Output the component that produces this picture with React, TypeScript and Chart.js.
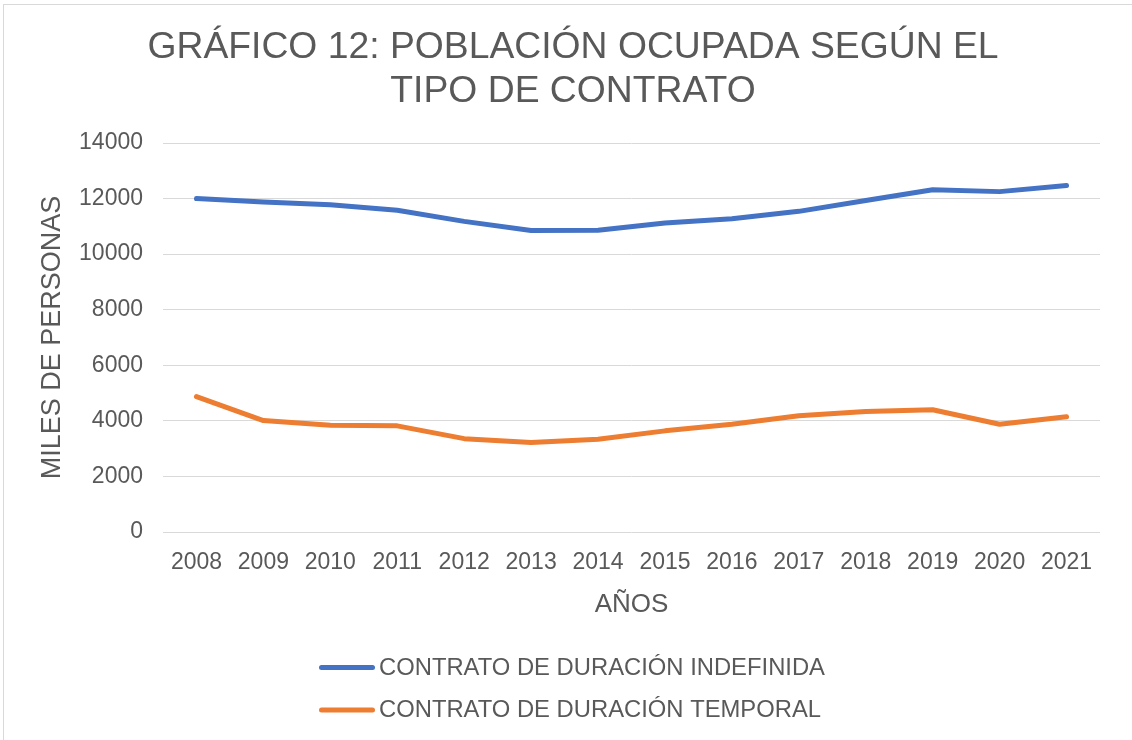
import React, { useEffect, useRef } from "react";
import { Chart, registerables } from "chart.js";

Chart.register(...registerables);

const years = ["2008", "2009", "2010", "2011", "2012", "2013", "2014", "2015", "2016", "2017", "2018", "2019", "2020", "2021"];
const indefinida = [12000, 11880, 11780, 11580, 11180, 10850, 10860, 11120, 11270, 11540, 11930, 12320, 12250, 12470];
const temporal = [4870, 4010, 3840, 3820, 3360, 3220, 3340, 3640, 3880, 4180, 4340, 4400, 3880, 4150];
const seriesLabels = ["CONTRATO DE DURACIÓN INDEFINIDA", "CONTRATO DE DURACIÓN TEMPORAL"];
const seriesColors = ["#4472C4", "#ED7D31"];
const titleLines = ["GRÁFICO 12: POBLACIÓN OCUPADA SEGÚN EL", "TIPO DE CONTRATO"];
const yAxisTitle = "MILES DE PERSONAS";
const xAxisTitle = "AÑOS";
const yMin = 0;
const yMax = 14000;
const yStep = 2000;

const FONT = "'Liberation Sans', Arial, sans-serif";
const TEXT = "#595959";

const titlePlugin = {
  id: "customTitle",
  afterDraw(chart: any) {
    const ctx = chart.ctx;
    ctx.save();
    ctx.fillStyle = TEXT;
    ctx.font = `37.3px ${FONT}`;
    ctx.textAlign = "center";
    ctx.textBaseline = "alphabetic";
    const baselines = [58, 101.5];
    titleLines.forEach((t, i) => ctx.fillText(t, 573, baselines[i]));
    ctx.restore();
  },
};

const legendPlugin = {
  id: "customLegend",
  afterDraw(chart: any) {
    const ctx = chart.ctx;
    ctx.save();
    chart.data.datasets.forEach((ds: any, i: number) => {
      const y = 667.5 + i * 42.5;
      ctx.strokeStyle = ds.borderColor;
      ctx.lineWidth = 5;
      ctx.lineCap = "round";
      ctx.beginPath();
      ctx.moveTo(321.5, y);
      ctx.lineTo(372.5, y);
      ctx.stroke();
      ctx.fillStyle = TEXT;
      ctx.font = `23.8px ${FONT}`;
      ctx.textAlign = "left";
      ctx.textBaseline = "middle";
      ctx.fillText(ds.label, 379, y + 0.5);
    });
    ctx.restore();
  },
};

export default function App() {
  const ref = useRef<HTMLCanvasElement | null>(null);

  useEffect(() => {
    if (!ref.current) return;
    const chart = new Chart(ref.current, {
      type: "line",
      data: {
        labels: years,
        datasets: [
          {
            label: seriesLabels[0],
            data: indefinida,
            borderColor: seriesColors[0],
            backgroundColor: seriesColors[0],
            borderWidth: 5,
            pointRadius: 0,
            tension: 0,
            borderCapStyle: "round",
            borderJoinStyle: "round",
          },
          {
            label: seriesLabels[1],
            data: temporal,
            borderColor: seriesColors[1],
            backgroundColor: seriesColors[1],
            borderWidth: 5,
            pointRadius: 0,
            tension: 0,
            borderCapStyle: "round",
            borderJoinStyle: "round",
          },
        ],
      },
      options: {
        animation: false,
        responsive: false,
        maintainAspectRatio: false,
        layout: { padding: { top: 143, bottom: 120, left: 0, right: 32 } },
        plugins: {
          legend: { display: false },
          title: { display: false },
          tooltip: { enabled: false },
        },
        scales: {
          x: {
            type: "category",
            offset: true,
            grid: { display: false, drawTicks: false },
            border: { display: false },
            ticks: {
              color: TEXT,
              font: { family: FONT, size: 23 },
              padding: 17,
              maxRotation: 0,
              autoSkip: false,
            },
            title: {
              display: true,
              text: xAxisTitle,
              color: TEXT,
              font: { family: FONT, size: 26 },
              padding: { top: 0, bottom: 0 },
            },
            afterFit(scale: any) {
              scale.height = 88;
            },
          },
          y: {
            min: yMin,
            max: yMax,
            grid: { color: "#d9d9d9", lineWidth: 1, drawTicks: false },
            border: { display: false },
            ticks: {
              stepSize: yStep,
              color: TEXT,
              font: { family: FONT, size: 23 },
              padding: 20,
              callback: (v: any) => String(v),
            },
            title: {
              display: true,
              text: yAxisTitle,
              color: TEXT,
              font: { family: FONT, size: 27 },
              padding: { top: 36.8, bottom: 0 },
            },
            afterFit(scale: any) {
              scale.width = 163;
            },
          },
        },
      },
      plugins: [titlePlugin, legendPlugin],
    } as any);
    return () => chart.destroy();
  }, []);

  return (
    <div
      style={{
        position: "fixed",
        left: 0,
        top: 0,
        width: 1132,
        height: 740,
        overflow: "hidden",
        background: "#ffffff",
      }}
    >
      <div
        style={{
          position: "absolute",
          left: 3,
          top: 4,
          width: 1150,
          height: 760,
          border: "1px solid #d9d9d9",
          boxSizing: "border-box",
        }}
      />
      <canvas ref={ref} width={1132} height={740} style={{ position: "absolute", left: 0, top: 0, width: 1132, height: 740 }} />
    </div>
  );
}
